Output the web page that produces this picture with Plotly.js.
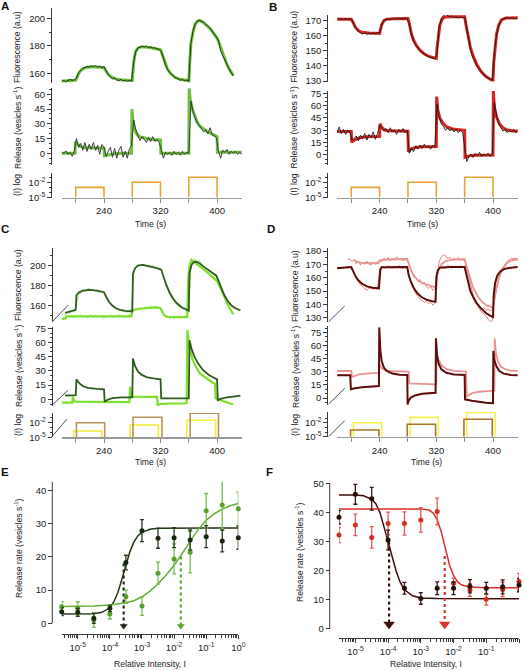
<!DOCTYPE html>
<html><head><meta charset="utf-8">
<script src="https://cdn.plot.ly/plotly-3.0.1.min.js"></script>
<style>html,body{margin:0;padding:0;background:#fff;}#chart{width:526px;height:671px;}</style>
</head><body><div id="chart"></div>
<script>
// ---------------- DATA ----------------
// common time grid (s) of the recorded (noisy) traces
const tGrid = [180,183,186,189,192,195,198,201,204,207,210,213,216,219,222,225,228,231,234,237,240,243,246,249,252,255,258,261,264,267,270,273,276,279,282,285,288,291,294,297,300,303,306,309,312,315,318,321,324,327,330,333,336,339,342,345,348,351,354,357,360,363,366,369,372,375,378,381,384,387,390,393,396,399,402,405,408,411,414,417,420,423,426,429,432,435];
const timeLabelVals = [240,320,400];
const timeMinorVals = [200,280,360];

// Panel A
const aFluorData = [154.2,154.8,154.0,155.0,155.5,155.0,155.3,156.5,160.5,162.0,163.8,164.0,165.2,164.5,165.5,165.0,165.6,164.6,165.2,164.0,164.8,162.0,159.0,157.2,156.0,156.5,155.2,154.8,155.6,154.4,155.0,154.2,154.8,154.3,168.0,176.0,178.5,179.0,179.8,179.2,179.6,178.8,179.2,178.4,178.6,177.8,177.5,176.0,170.5,166.0,162.8,160.5,159.2,157.8,156.5,156.0,155.0,155.5,154.6,155.2,154.2,182.0,191.0,196.0,198.0,198.6,197.8,197.0,195.5,194.6,193.0,191.0,189.0,186.5,184.0,176.5,173.0,169.5,166.0,163.2,160.5,158.0,null,null,null,null];
const aFluorFit = [[180,154.5],[190,154.6],[200,155.0],[203,158.5],[206,161.5],[210,163.2],[215,164.3],[222,164.8],[230,164.7],[236,164.4],[240,164.2],[243,161.5],[246,159.3],[250,157.6],[255,156.3],[262,155.4],[270,155.0],[280,154.8],[281.5,165],[283,172],[285,176],[288,178.3],[292,179.2],[300,179.2],[310,178.2],[320,177.2],[323,173],[326,168],[330,163],[335,159.5],[340,157.3],[348,155.7],[355,155],[360,154.6],[361.5,170],[363,182],[366,190],[369,195.5],[372,197.8],[375,198.5],[380,197.3],[385,195],[390,192.5],[395,189],[400,185.5],[403,182],[406,177.5],[410,171.5],[414,166.5],[418,162.5],[423,158.5]];
const aRelData = [1,0,2.5,-1,1,-3,2,15,6,10,3,11,2,9,4,11,3,8,-1,9,6,-3,2,6,-4,5,-5,3,7,-4,2,-5,5,8,34,24,18,13,17,14,11,16,12,17,12,14,11,4,-5,1,-1,1,-2,2,-1,1,-2,2,-1,1,0,53,42,36,31,28,25,22,24,20,26,19,18,16,2,-5,3,1,4,-1,2,0,2,-1,1,-1];
const aRelFit = [[180,0],[199,0],[199.5,12],[203,9],[207,7],[212,6],[220,5.6],[240,5.2],[240.5,-2.5],[246,-1.5],[255,-0.5],[265,0],[279,0],[279.5,45],[281,32],[283,25],[286,20],[290,17],[300,15],[310,14],[320,13.5],[320.5,0],[360,0],[360.5,66],[362,55],[365,45],[368,38],[371,33],[375,28],[380,25],[386,22],[393,19.5],[400,17],[400.5,1],[435,1]];
const abPulseStart = [200,280,360];
const abPulseEnd = [240,320,400];
const abPulseLevel = [1e-3,1e-2,1e-1];
const pulseBase = 1e-5;

// Panel B
const bFluorData = [171.8,171.0,171.6,170.8,171.4,171.0,171.2,170.5,167.0,164.8,163.0,162.0,161.2,162.0,161.0,161.8,161.2,162.0,161.4,162.2,162.0,167.0,170.2,170.8,171.2,170.8,171.5,171.0,171.6,171.2,171.4,171.0,171.5,171.2,167.5,160.5,156.5,154.0,152.0,150.2,149.0,147.8,147.0,146.2,145.8,145.5,144.6,148.0,166.0,171.0,173.5,174.2,173.6,172.8,173.2,172.0,172.6,171.8,172.4,172.0,172.3,164.0,155.5,149.5,145.5,142.0,139.5,137.5,135.5,134.0,133.0,132.2,131.2,130.5,149.0,160.5,166.5,170.0,171.2,171.8,172.2,171.6,172.0,171.6,171.2,171.8];
const bFluorFit = [[180,171],[200,171],[203,168.5],[206,165.5],[210,163.5],[215,162.3],[225,161.8],[240,161.5],[241,164],[243,167.5],[246,170],[250,171],[260,171.3],[280,171.5],[282,168],[285,161],[288,157],[292,153.5],[297,150.5],[303,148],[310,146.3],[320,145],[321,152],[323,161],[325,167],[328,171],[332,172.5],[345,172.7],[360,172.7],[362,167],[365,159],[368,152.5],[372,146.5],[377,141],[383,136.5],[390,133],[395,131.5],[400,130.2],[401,142],[403,153],[405,161],[408,167],[412,170.5],[418,171.8],[435,172]];
const bRelData = [27,34,26,31,25,30,28,18,20,23,17,24,20,26,18,25,21,28,19,26,36,33,29,32,27,33,28,30,25,31,28,32,27,30,2,8,4,11,7,12,8,13,9,11,7,12,9,62,46,38,35,30,33,29,32,28,31,27,30,28,12,-8,-2,1,-3,2,-1,3,-2,1,-1,2,-2,1,64,48,38,33,29,31,27,30,28,31,27,30];
const bRelFit = [[180,28.5],[200,28.5],[200.5,15.5],[205,18.5],[212,20.8],[222,22],[240,22.3],[240.5,38],[243,33.5],[247,30.5],[252,29.3],[262,28.8],[280,28.7],[280.5,4],[284,7],[290,9],[300,10],[320,10.3],[320.5,71],[322,55],[325,45],[329,39],[335,34],[343,31.5],[352,30.3],[360,30],[360.5,-3],[366,-1.2],[375,-0.3],[390,0],[400,0],[400.5,78],[402,58],[405,46],[409,38],[414,33],[420,30.3],[428,29.2],[435,29]];

// Panel C
const cData1 = [150.5,152.5,151.0,153.5,152.0,155.0,153.5,162.0,170.5,173.0,175.5,174.0,176.5,177.5,175.0,176.5,174.5,175.5,173.5,174.8,172.5,170.0,165.0,162.0,160.5,158.0,157.0,155.5,156.0,154.0,155.0,153.5,155.5,157.0,194.0,198.0,199.5,201.5,200.0,202.0,199.5,201.0,199.0,200.5,198.0,197.5,196.0,195.5,190.0,183.0,176.0,171.0,167.5,164.0,162.5,159.5,158.5,156.5,157.5,155.0,156.0,200.0,205.0,206.5,203.5,205.5,201.0,199.5,197.0,196.5,194.0,193.5,191.0,189.5,185.0,179.0,173.5,168.5,165.5,162.0,160.5,158.0,157.5,156.0,155.5,null];
const cData2 = [146.0,148.5,147.0,150.5,148.5,150.0,148.0,150.5,149.0,151.0,148.5,150.0,147.5,149.5,151.0,148.0,150.5,148.5,150.0,149.0,147.5,150.0,149.0,151.0,148.5,150.5,149.0,151.5,149.5,150.0,148.5,149.5,150.5,152.0,155.0,157.5,155.5,158.0,156.5,159.0,157.0,158.5,160.0,158.0,159.5,157.0,158.5,155.0,151.0,148.5,150.0,147.5,149.0,147.0,148.5,150.0,147.5,148.0,149.0,150.5,195.0,207.5,204.0,206.5,201.5,200.0,198.5,197.0,195.0,193.5,191.0,190.0,188.0,186.0,182.0,179.5,173.0,168.0,163.5,158.5,155.0,152.0,null,null,null,null];
const cDarkFit = [[185,153],[195,154.8],[200,156],[201,170.5],[204,173],[210,175],[220,175.8],[230,175],[240,173.5],[243,169],[247,164],[252,160],[257,157.5],[263,155.8],[270,154.8],[280,154.3],[281,192],[284,197.5],[288,200],[295,200.8],[305,199.5],[315,197.5],[321,196],[324,189],[328,181],[333,173],[338,167],[343,162.5],[350,158.5],[360,155],[361,193],[364,201],[367,203.5],[371,204],[375,202.5],[380,199.5],[390,194.5],[399,190],[402,185],[406,177.5],[410,171],[415,165],[420,160.5],[426,157.5],[433,155.5]];
const cLightFit = [[180,146.5],[186,147.5],[187,149.5],[200,149.6],[240,149.4],[279,149.5],[280,155.5],[290,157],[300,157.6],[314,158.3],[320,157.5],[322,154],[325,150.5],[330,148.8],[358,148.6],[359,185],[361,200],[364,205.5],[368,203.5],[375,199.5],[385,194],[395,188],[400,184.5],[404,179],[408,172],[412,165.5],[416,160],[420,155],[423,151.5]];
const cDarkRelFit = [[185,4],[200,4.5],[201,21],[205,17],[210,14],[217,12],[230,11],[240,10.5],[241,-2.5],[245,-0.5],[252,1.2],[265,2],[280,2.1],[281,43],[284,35],[288,29.5],[293,26],[300,23.5],[310,22],[320,21],[321,1],[360,1],[361,62.5],[364,53],[368,45],[373,38],[380,31],[388,26],[395,23],[400,21],[401,-0.8],[405,0.5],[412,1.8],[422,3],[433,3.9]];
const cLightRelFit = [[180,-3.5],[195,-3.5],[196,3],[197.5,-2],[200,-2.5],[240,-3],[276,-3],[277,13.5],[278.5,3],[280,2.8],[315,2.5],[316,-6],[320,-5],[330,-4.5],[357,-4.2],[358,73],[361,55],[365,43],[370,34],[376,27],[385,22],[395,17],[397,16.5],[398,1],[405,-1],[412,-3],[418,-4.5],[423,-5.5]];
const cBrownStart = [201,281,362], cBrownEnd = [241,322,402], cBrownLevel = [1e-2,1.3e-1,0.95];
const cYellowStart = [197,277,357], cYellowEnd = [237,317,398], cYellowLevel = [2e-4,3.3e-3,3.2e-2];

// Panel D
const dData1 = [166.5,167.5,167.0,168.0,167.5,168.5,168.0,166.0,163.0,159.5,157.0,154.5,153.0,151.5,150.5,152.0,152.5,151.0,152.5,151.5,166.0,168.5,168.0,167.0,169.0,168.0,167.0,168.5,167.5,169.0,168.0,167.0,168.5,167.5,160.5,155.0,151.5,148.0,145.5,144.0,143.0,141.5,142.5,140.5,141.5,139.5,141.0,164.0,167.0,169.0,168.0,167.0,169.0,168.5,167.0,168.5,168.0,167.5,169.0,168.0,168.5,161.0,153.5,148.0,145.0,141.0,139.0,136.5,134.0,133.0,131.0,129.5,127.0,127.5,152.0,160.0,163.5,166.0,167.5,168.5,170.5,172.0,173.0,174.0,173.5,174.0];
const dData2 = [null,null,null,null,null,173.5,174.0,172.0,173.5,170.5,172.0,169.5,171.0,170.0,172.5,170.0,169.5,171.5,170.0,172.0,173.5,172.0,174.5,173.0,175.0,172.5,174.5,173.0,175.5,173.5,174.0,172.5,174.0,173.0,169.0,165.5,162.0,160.5,157.0,158.5,155.0,156.5,153.5,152.0,153.5,150.5,152.0,158.0,172.0,175.5,177.0,176.5,174.0,175.5,173.0,174.5,173.5,175.0,173.0,174.0,172.5,167.0,160.0,152.0,147.0,143.5,140.0,138.5,136.5,137.5,135.5,136.5,135.0,136.0,142.0,151.0,158.0,164.0,167.5,170.5,172.5,173.5,174.5,174.0,174.5,174.0];
const dDarkFit = [[180,167],[198,168.3],[200,168],[203,164.5],[206,161],[210,158],[215,155.5],[222,153.5],[230,152.5],[239,152],[240,162],[241,166],[243,167.8],[260,168],[279,168],[281,162],[284,157],[288,152.5],[293,148.5],[299,145.5],[306,143.5],[314,142.3],[319,142],[320,160],[322,165.5],[325,167.5],[340,168],[360,168],[362,163],[365,155.5],[368,150],[372,145.5],[377,141],[383,137],[390,133.5],[396,131.5],[400,130.5],[401,147],[403,156],[406,161.5],[410,164.5],[416,166.5],[425,167.5],[435,168]];
const dLightFit = [[203,173.5],[208,172],[215,171],[238,170.8],[240,172],[243,173.3],[260,173.8],[279,174],[281,171],[284,166],[288,161.5],[293,158.5],[300,156],[310,154],[320,152.5],[321,162],[324,167],[328,170.5],[334,172.6],[345,173.6],[360,173.8],[363,168],[367,160.5],[372,152.5],[378,146.5],[385,141.5],[392,139],[400,137.8],[402,145],[405,153.5],[409,161],[413,166],[418,170],[425,172.8],[435,173.8]];
const dDarkRelFit = [[180,26],[198.5,26],[199.5,10],[205,11.3],[215,12.3],[228,13.2],[239,13.8],[239.5,81],[241,55],[243,42],[246,35],[250,31],[258,28],[268,26.7],[279,26.4],[279.5,-7.3],[281,-3],[284,0.5],[290,3],[300,4.8],[319,6],[319.5,68.5],[321,50],[323,40],[327,33],[334,29],[345,27],[360,26.4],[360.5,-1.5],[370,-3],[380,-4.3],[390,-5.3],[400,-6],[400.5,54],[402,43],[405,36],[409,31],[415,28],[425,26.5],[435,26]];
const dLightRelFit = [[180,31],[200,31],[201,24],[205,25.5],[212,27.5],[225,28.3],[239,28.8],[240,39],[243,34],[250,31],[265,30.5],[281,30.2],[282,16.8],[300,16],[320,15.7],[320.5,49.5],[323,44],[328,37],[335,33],[345,31.2],[362,30.2],[363,1.5],[367,4],[372,5.8],[380,7.2],[392,8],[402,8.4],[402.5,68.5],[404,52],[407,42],[411,36],[417,33],[425,31.5],[435,31]];
const dBrownStart = [199,279,359], dBrownEnd = [239,319,399], dBrownLevel = [2.7e-4,4.5e-3,5.4e-2];
const dYellowStart = [203,283,363], dYellowEnd = [243,323,403], dYellowLevel = [1e-2,1.4e-1,1.6];

// Panels E and F (relative intensity, as powers of ten)
const intensityExp = [-5.5,-5,-4.5,-4,-3.5,-3,-2.5,-2,-1.5,-1,-0.5,0];
const eDarkY   = [3.5,3.3,1.5,4.5,18.3,27.9,25.6,25.8,25.1,26.1,24.8,25.8];
const eDarkErr = [1.2,1.2,1.5,1.0,2.2,3.3,3.0,3.0,3.0,3.3,3.3,3.5];
const eGreenY   = [5.0,4.5,1.0,2.8,8.0,5.2,15.1,19.4,21.4,33.9,35.6,34.5];
const eGreenErr = [1.5,2.0,2.2,1.5,2.0,2.8,3.3,4.5,6.2,5.2,7.2,5.0];
const eDarkCurveExp = [-5.5,-5,-4.5,-4.25,-4,-3.875,-3.75,-3.625,-3.5,-3.375,-3.25,-3.125,-3,-2.75,-2.5,-2,-1,0];
const eDarkCurveY   = [2.8,2.8,2.85,3.3,4.6,6.5,9.3,13.3,17.6,21.6,24.5,26.4,27.4,28.3,28.6,28.7,28.7,28.7];
const eGreenCurveExp = [-5.5,-5,-4.5,-4,-3.5,-3.25,-3,-2.75,-2.5,-2.25,-2,-1.75,-1.5,-1.25,-1,-0.75,-0.5,-0.25,0];
const eGreenCurveY   = [5.1,5.1,5.2,5.5,6.2,6.8,8.0,9.7,11.9,14.5,17.5,21.0,24.5,28.3,31.0,33.0,34.4,35.4,36.1];
const eArrowExp = [-3.57,-1.79], eArrowTop = [18,20.1], eArrowBottom = -0.8;

const fDarkY   = [38.3,46.2,44.7,30.5,13.9,10.4,13.9,13.9,14.6,13.9,14.4,15.0];
const fDarkErr = [2.3,3.4,3.9,3.4,2.0,2.0,2.2,2.2,2.3,2.0,2.4,2.3];
const fRedY   = [32.2,35.7,31.4,36.2,36.2,37.4,40.3,15.6,13.3,10.1,13.5,16.2];
const fRedErr = [2.6,3.7,3.7,3.9,4.0,4.2,4.6,1.8,2.2,2.0,2.5,2.8];
const fDarkCurveExp = [-5.5,-5,-4.75,-4.5,-4.375,-4.25,-4.125,-4,-3.875,-3.75,-3.625,-3.5,-3.25,-3,-2.5,-2,-1,0];
const fDarkCurveY   = [46,46,45.7,44.5,43,40,35,30,24.7,19.7,15.8,13.4,11.3,10.6,10.35,10.3,10.3,10.3];
const fRedCurveExp = [-5.5,-4,-3,-2.75,-2.625,-2.5,-2.375,-2.25,-2.125,-2,-1.875,-1.75,-1.5,-1,0];
const fRedCurveY   = [41.2,41.2,41.2,40.8,39.8,37.5,33.3,27.6,22,18.2,16.1,15,14.3,14.1,14.1];
const fArrowExp = [-3.97,-2.27], fArrowTop = [30,25], fArrowBottom = 1.5;

const decadeVals = [1e-5,1e-4,1e-3,1e-2,1e-1,1];
const decadeText = ['10<sup>-5</sup>','10<sup>-4</sup>','10<sup>-3</sup>','10<sup>-2</sup>','10<sup>-1</sup>','10<sup>0</sup>'];

// ---------------- BUILD ----------------
const W = 526, H = 671;
const FONT = 'Liberation Sans, Arial, Helvetica, sans-serif';
const AX = '#3a3a3a';
const dom = (top, bottom) => [1 - bottom / H, 1 - top / H];
const pow10 = a => a.map(v => Math.pow(10, v));

function fitLine(pairs, xa, ya, color, width) {
  return {type:'scatter', mode:'lines', x:pairs.map(p=>p[0]), y:pairs.map(p=>p[1]), xaxis:xa, yaxis:ya,
          line:{color, width}, hoverinfo:'skip', showlegend:false};
}
function dataLine(ys, xa, ya, color, width) {
  return {type:'scatter', mode:'lines', x:tGrid, y:ys, xaxis:xa, yaxis:ya,
          line:{color, width}, connectgaps:false, hoverinfo:'skip', showlegend:false};
}
function pulses(starts, ends, levels, xa, ya, color) {
  const x = [], y = [];
  starts.forEach((s,i) => { x.push(s, s, ends[i], ends[i], null); y.push(pulseBase, levels[i], levels[i], pulseBase, null); });
  return {type:'scatter', mode:'lines', x, y, xaxis:xa, yaxis:ya, line:{color, width:1.6}, hoverinfo:'skip', showlegend:false};
}
function points(ys, errs, xa, ya, color, errColor) {
  return {type:'scatter', mode:'markers', x:pow10(intensityExp), y:ys, xaxis:xa, yaxis:ya, cliponaxis:false,
          marker:{color, size:5}, error_y:{type:'data', array:errs, visible:true, color:errColor, thickness:1.3, width:2},
          hoverinfo:'skip', showlegend:false};
}
function curve(exps, ys, xa, ya, color) {
  return {type:'scatter', mode:'lines', x:pow10(exps), y:ys, xaxis:xa, yaxis:ya, line:{color, width:1.5}, hoverinfo:'skip', showlegend:false};
}
function arrows(exps, tops, bottom, xa, ya, colors, size) {
  const out = [];
  exps.forEach((e,i) => {
    out.push({type:'scatter', mode:'lines', x:[Math.pow(10,e), Math.pow(10,e)], y:[tops[i], bottom], xaxis:xa, yaxis:ya,
              line:{color:colors[i], width:2.2, dash:'dot'}, hoverinfo:'skip', showlegend:false});
    out.push({type:'scatter', mode:'markers', x:[Math.pow(10,e)], y:[bottom], xaxis:xa, yaxis:ya, cliponaxis:false,
              marker:{symbol:'triangle-down', size, color:colors[i]}, hoverinfo:'skip', showlegend:false});
  });
  return out;
}

const tickFont = {family:FONT, size:9.5, color:'#222'};
function yLin(pos, top, bottom, range, tickvals, minorD) {
  const a = {anchor:'free', position:pos/W, domain:dom(top,bottom), range, tickmode:'array', tickvals,
    showgrid:false, zeroline:false, showline:true, linecolor:AX, linewidth:1, ticks:'outside', ticklen:4, tickwidth:1,
    tickcolor:AX, tickfont:tickFont, fixedrange:true};
  if (minorD) a.minor = {dtick:minorD, tick0:0, ticks:'outside', ticklen:2, tickwidth:1, tickcolor:AX, showgrid:false};
  return a;
}
function yLog(pos, top, bottom, range) {
  return {type:'log', anchor:'free', position:pos/W, domain:dom(top,bottom), range, tickmode:'array',
    tickvals:[1e-5,1e-2], ticktext:['10<sup>-5</sup>','10<sup>-2</sup>'],
    showgrid:false, zeroline:false, showline:true, linecolor:AX, linewidth:1, ticks:'outside', ticklen:4, tickwidth:1,
    tickcolor:AX, tickfont:tickFont, fixedrange:true,
    minor:{tickmode:'array', tickvals:[1e-4,1e-3,1e-1], ticks:'outside', ticklen:2, tickwidth:1, tickcolor:AX, showgrid:false}};
}
function xTime(left, right, anchor) {
  return {domain:[left/W, right/W], anchor, range:[180,435], tickmode:'array', tickvals:timeLabelVals,
    showgrid:false, zeroline:false, showline:true, linecolor:'#9a9a9a', linewidth:1.5, ticks:'outside', ticklen:4,
    tickwidth:1, tickcolor:'#8a8a8a', tickfont:tickFont, fixedrange:true,
    minor:{tickmode:'array', tickvals:timeMinorVals, ticks:'outside', ticklen:4, tickwidth:1, tickcolor:'#8a8a8a', showgrid:false}};
}
function xIntensity(left, right, anchor) {
  return {type:'log', domain:[left/W, right/W], anchor, range:[-5.5,0], tickmode:'array', tickvals:decadeVals, ticktext:decadeText,
    showgrid:false, zeroline:false, showline:true, linecolor:AX, linewidth:1, ticks:'outside', ticklen:4, tickwidth:1,
    tickcolor:AX, tickfont:tickFont, fixedrange:true,
    minor:{dtick:'D1', ticks:'outside', ticklen:2.5, tickwidth:1, tickcolor:AX, showgrid:false}};
}

const traces = [];
// A
traces.push(fitLine(aFluorFit,'x','y','#6cc23c',3));
traces.push(dataLine(aFluorData,'x','y','#1e3314',1));
traces.push(fitLine(aRelFit,'x','y2','#6cc23c',3));
traces.push(dataLine(aRelData,'x','y2','#3a3a3a',1));
traces.push(pulses(abPulseStart,abPulseEnd,abPulseLevel,'x','y3','#eaa235'));
// B
traces.push(fitLine(bFluorFit,'x2','y4','#d8261e',3));
traces.push(dataLine(bFluorData,'x2','y4','#1a1a1a',0.9));
traces.push(fitLine(bRelFit,'x2','y5','#d8261e',3));
traces.push(dataLine(bRelData,'x2','y5','#1a1a1a',0.9));
traces.push(pulses(abPulseStart,abPulseEnd,abPulseLevel,'x2','y6','#eaa235'));
// C
traces.push(dataLine(cData1,'x3','y7','#a6e27a',0.9));
traces.push(dataLine(cData2,'x3','y7','#a6e27a',0.9));
traces.push(fitLine(cLightFit,'x3','y7','#7ee02c',2.2));
traces.push(fitLine(cDarkFit,'x3','y7','#2f5a1e',1.8));
traces.push(fitLine(cLightRelFit,'x3','y8','#7ee02c',2.2));
traces.push(fitLine(cDarkRelFit,'x3','y8','#2f5a1e',1.8));
traces.push(pulses(cYellowStart,cYellowEnd,cYellowLevel,'x3','y9','#f2ee3a'));
traces.push(pulses(cBrownStart,cBrownEnd,cBrownLevel,'x3','y9','#b8925a'));
// D
traces.push(dataLine(dData1,'x4','y10','#e57373',0.9));
traces.push(dataLine(dData2,'x4','y10','#e57373',0.9));
traces.push(fitLine(dLightFit,'x4','y10','#ea9591',1.8));
traces.push(fitLine(dDarkFit,'x4','y10','#5e0c0c',2));
traces.push(fitLine(dLightRelFit,'x4','y11','#ea9591',1.8));
traces.push(fitLine(dDarkRelFit,'x4','y11','#5e0c0c',2));
traces.push(pulses(dYellowStart,dYellowEnd,dYellowLevel,'x4','y12','#f6f24c'));
traces.push(pulses(dBrownStart,dBrownEnd,dBrownLevel,'x4','y12','#a87525'));
// E
traces.push(curve(eDarkCurveExp,eDarkCurveY,'x5','y13','#1f3516'));
traces.push(curve(eGreenCurveExp,eGreenCurveY,'x5','y13','#62ae36'));
traces.push(...arrows(eArrowExp,eArrowTop,eArrowBottom,'x5','y13',['#1f2a18','#5ea533'],7));
traces.push(points(eGreenY,eGreenErr,'x5','y13','#5a9e2e','#7cbc52'));
traces.push(points(eDarkY,eDarkErr,'x5','y13','#1a2612','#2a3a20'));
// F
traces.push(curve(fDarkCurveExp,fDarkCurveY,'x6','y14','#3a0d08'));
traces.push(curve(fRedCurveExp,fRedCurveY,'x6','y14','#dc2d25'));
traces.push(...arrows(fArrowExp,fArrowTop,fArrowBottom,'x6','y14',['#3a0d08','#e0342a'],10));
traces.push(points(fRedY,fRedErr,'x6','y14','#d42b23','#e35a52'));
traces.push(points(fDarkY,fDarkErr,'x6','y14','#2a0a06','#3a1510'));

const titleFont = {family:FONT, size:8.6, color:'#222'};
function ann(text, x, y, angle, extra) {
  return Object.assign({text, x:x/W, y:1-y/H, xref:'paper', yref:'paper', showarrow:false, textangle:angle||0,
    xanchor:'center', yanchor:'middle', font:titleFont}, extra||{});
}
const letterFont = {family:FONT, size:11.5, color:'#111'};
const REL = 'Release (vesicles s<sup>-1</sup>)';
const annotations = [
  ann('<b>A</b>',5,6,0,{font:letterFont}), ann('<b>B</b>',273,7,0,{font:letterFont}),
  ann('<b>C</b>',5,229,0,{font:letterFont}), ann('<b>D</b>',271,229,0,{font:letterFont}),
  ann('<b>E</b>',5,472,0,{font:letterFont}), ann('<b>F</b>',269,472,0,{font:letterFont}),
  ann('Fluorescence (a.u)',17,47,-90), ann(REL,17,128,-90), ann('(I) log',17,185,-90),
  ann('Fluorescence (a.u)',293.5,47,-90), ann(REL,293.5,128,-90), ann('(I) log',293.5,185,-90),
  ann('Fluorescence (a.u)',18,285,-90), ann(REL,18,366,-90), ann('(I) log',18,425,-90),
  ann('Fluorescence (a.u)',295,286,-90), ann(REL,295,367,-90), ann('(I) log',295,425,-90),
  ann('Time (s)',150,224), ann('Time (s)',422,224), ann('Time (s)',150,462), ann('Time (s)',426,462),
  ann('Release rate (vesicles s<sup>-1</sup>)',18,548,-90), ann('Release rate (vesicles s<sup>-1</sup>)',299,552,-90),
  ann('Relative Intensity, I',150,664), ann('Relative Intensity, I',426,664)
];

function diag(x0,y0,x1,y1){ return {type:'line', xref:'paper', yref:'paper', x0:x0/W, y0:1-y0/H, x1:x1/W, y1:1-y1/H, line:{color:AX, width:0.9}}; }
const shapes = [
  diag(52.3,321.7,68.3,305), diag(52.3,405,68.3,390), diag(51.7,437,66.7,419.3),
  diag(328.7,321.7,344.7,306), diag(328.7,404,344.7,388.3), diag(328.7,436.7,344.7,420.7),
  {type:'line', xref:'paper', yref:'y13', x0:52.3/W, x1:52.3/W, y0:0, y1:42.65, line:{color:AX, width:1}},
  {type:'line', xref:'paper', yref:'y14', x0:329.7/W, x1:329.7/W, y0:0, y1:50.1, line:{color:AX, width:1}}
];

const layout = {
  width:W, height:H, margin:{l:0,r:0,t:0,b:0}, paper_bgcolor:'#fff', plot_bgcolor:'rgba(0,0,0,0)',
  showlegend:false, font:{family:FONT, color:'#222'},
  xaxis:  xTime(61.6,241.8,'y3'),
  xaxis2: xTime(337.1,517.8,'y6'),
  xaxis3: xTime(61.6,241.8,'y9'),
  xaxis4: xTime(337.1,517.8,'y12'),
  xaxis5: xIntensity(61.7,238.3,'y13'),
  xaxis6: xIntensity(339,519,'y14'),
  yaxis:  yLin(51,8,83,[153,207.5],[160,180,200],10),
  yaxis2: yLin(51,88,165,[-11.9,66.4],[0,15,30,45,60],5),
  yaxis3: yLog(51,173,197.5,[-5,-0.17]),
  yaxis4: yLin(327.3,15,81.5,[129.7,173.8],[130,140,150,160,170],5),
  yaxis5: yLin(327.3,91,165,[-12.3,77.8],[0,15,30,45,60,75],5),
  yaxis6: yLog(327.3,173,197.5,[-5,-0.17]),
  yaxis7: yLin(51.7,248,321,[144.8,217.6],[160,180,200],10),
  yaxis8: yLin(51.7,327,406,[-7.1,76.4],[0,15,30,45,60,75],5),
  yaxis9: yLog(51.7,413,437.3,[-5,0]),
  yaxis10: yLin(327.3,248,321.7,[127,182.25],[130,140,150,160,170,180],5),
  yaxis11: yLin(327.3,326,405,[-8,82.6],[0,15,30,45,60,75],5),
  yaxis12: yLog(327.3,412,436.7,[-5,0.29]),
  yaxis13: Object.assign(yLin(52.3,481.7,634.3,[-3.31,42.65],[0,10,20,30,40],null),{showline:false}),
  yaxis14: Object.assign(yLin(329.7,483,638.3,[-3.3,50.1],[0,10,20,30,40,50],null),{showline:false}),
  annotations, shapes
};

Plotly.newPlot('chart', traces, layout, {staticPlot:true, displayModeBar:false});
</script></body></html>
